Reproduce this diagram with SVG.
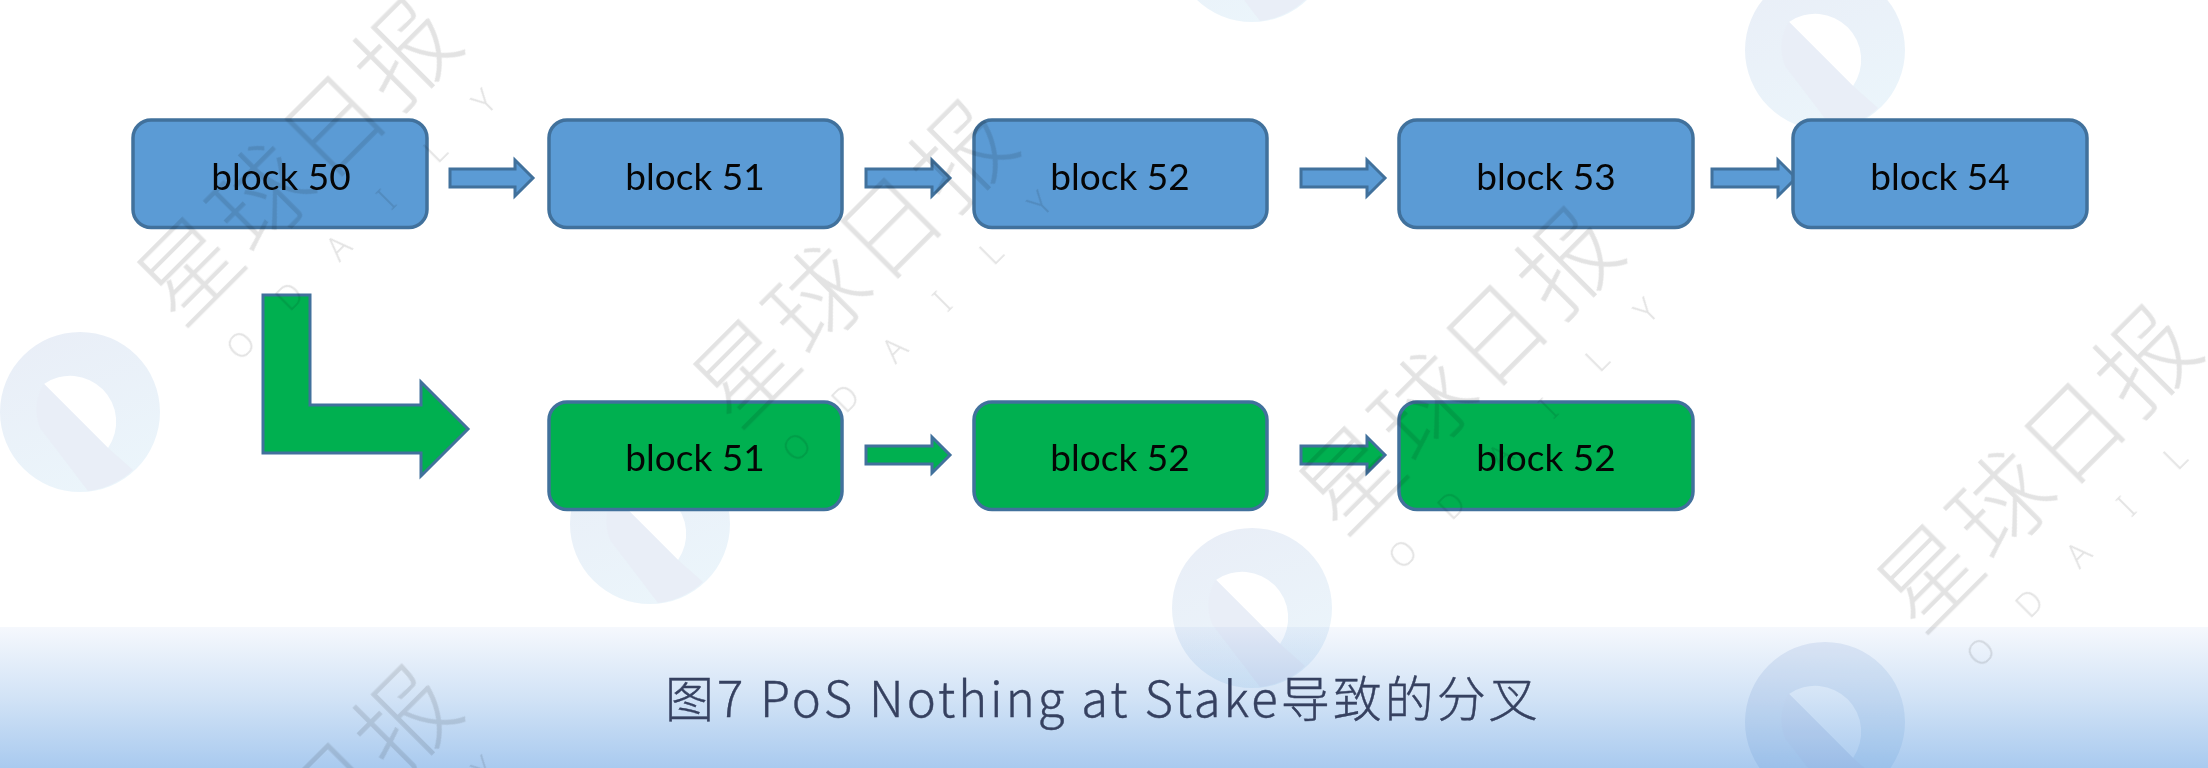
<svg xmlns="http://www.w3.org/2000/svg" xmlns:xlink="http://www.w3.org/1999/xlink" width="2208" height="768" viewBox="0 0 2208 768">
<style>
.n{stroke:#41719c;stroke-width:3.5}
.b{fill:#5b9bd5}
.g{fill:#00b050}
.t{font-family:Lato,"Liberation Sans",sans-serif;font-size:37px;fill:#050505;text-anchor:middle}
.a{stroke:#41719c;stroke-width:3;stroke-linejoin:miter}
.logo{mix-blend-mode:multiply}
.wm{mix-blend-mode:multiply}
.wc{font-family:"Noto Sans CJK SC",sans-serif;font-weight:300;font-size:98px;fill:#e3e3e3;text-anchor:middle;letter-spacing:4px}
.wd{font-family:"Noto Sans",sans-serif;font-weight:300;font-size:33px;fill:#e3e3e3;text-anchor:middle}
.cap{font-family:"Noto Sans CJK SC",sans-serif;font-weight:300;font-size:49px;fill:#364160;letter-spacing:3px;stroke:#364160;stroke-width:.4px}
</style>
<defs>
<linearGradient id="band" x1="0" y1="0" x2="0" y2="1">
<stop offset="0" stop-color="#f5f8fd"/><stop offset=".5" stop-color="#d2e3f6"/><stop offset="1" stop-color="#a9caef"/>
</linearGradient>
<linearGradient id="ring" x1="0.2" y1="0" x2="0.6" y2="1">
<stop offset="0" stop-color="#e9eef7"/><stop offset="1" stop-color="#ebf5fb"/>
</linearGradient>
<g id="mark">
<path fill="url(#ring)" fill-rule="evenodd" d="M-80 0A80 80 0 1 1 80 0A80 80 0 1 1-80 0ZM-36-28A46 46 0 0 1 28 36Z"/>
<path fill="#e9eef7" d="M-36-28L28 36L53 58A80 80 0 0 1 8 79Q-20 42-40 16Q-49-8-36-28Z"/>
</g>
<g id="wmark">
<text class="wc" x="0" y="34">星球日报</text>
<text class="wd" y="100" x="-172 -103 -34 34 103 172">ODAILY</text>
</g>
</defs>
<rect width="2208" height="768" fill="#fff"/>
<rect id="caption-band" y="627" width="2208" height="141" fill="url(#band)"/>
<g id="logos" class="logo">
<use xlink:href="#mark" href="#mark" x="80" y="412"/>
<use xlink:href="#mark" href="#mark" x="650" y="524"/>
<use xlink:href="#mark" href="#mark" x="1252" y="608"/>
<use xlink:href="#mark" href="#mark" x="1825" y="722"/>
<use xlink:href="#mark" href="#mark" x="1252" y="-58"/>
<use xlink:href="#mark" href="#mark" x="1825" y="50"/>
</g>
<g id="connectors">
<path class="a b" d="M450 169H515V160L533 178L515 196V187H450Z"/>
<path class="a b" d="M866 169H932V160L950 178L932 196V187H866Z"/>
<path class="a b" d="M1301 169H1367V160L1385 178L1367 196V187H1301Z"/>
<path class="a b" d="M1712 169H1778V160L1796 178L1778 196V187H1712Z"/>
<path class="a g" d="M866 446H932V437L950 455L932 473V464H866Z"/>
<path class="a g" d="M1301 446H1367V437L1385 455L1367 473V464H1301Z"/>
<path id="fork" class="a g" d="M263 295H310V405H421V382L468 429L421 476V453H263Z"/>
</g>
<g id="block50"><rect class="n b" x="133" y="120" width="294" height="107.5" rx="18"/><text class="t" x="281" y="190">block 50</text></g>
<g id="block51"><rect class="n b" x="549" y="120" width="293" height="107.5" rx="18"/><text class="t" x="695" y="190">block 51</text></g>
<g id="block52"><rect class="n b" x="974" y="120" width="293" height="107.5" rx="18"/><text class="t" x="1120" y="190">block 52</text></g>
<g id="block53"><rect class="n b" x="1399" y="120" width="294" height="107.5" rx="18"/><text class="t" x="1546" y="190">block 53</text></g>
<g id="block54"><rect class="n b" x="1793" y="120" width="294" height="107.5" rx="18"/><text class="t" x="1940" y="190">block 54</text></g>
<g id="fork51"><rect class="n g" x="549" y="402" width="293" height="107.5" rx="18"/><text class="t" x="695" y="471">block 51</text></g>
<g id="fork52"><rect class="n g" x="974" y="402" width="293" height="107.5" rx="18"/><text class="t" x="1120" y="471">block 52</text></g>
<g id="fork52b"><rect class="n g" x="1399" y="402" width="294" height="107.5" rx="18"/><text class="t" x="1546" y="471">block 52</text></g>
<text id="caption" class="cap" x="665" y="717">图7 PoS Nothing at Stake导致的分叉</text>
<g id="watermarks" class="wm">
<use xlink:href="#wmark" href="#wmark" transform="translate(300 161) rotate(-45)"/>
<use xlink:href="#wmark" href="#wmark" transform="translate(856 263) rotate(-45)"/>
<use xlink:href="#wmark" href="#wmark" transform="translate(1462 370) rotate(-45)"/>
<use xlink:href="#wmark" href="#wmark" transform="translate(2040 468) rotate(-45)"/>
<use xlink:href="#wmark" href="#wmark" transform="translate(300 828) rotate(-45)"/>
</g>
</svg>
